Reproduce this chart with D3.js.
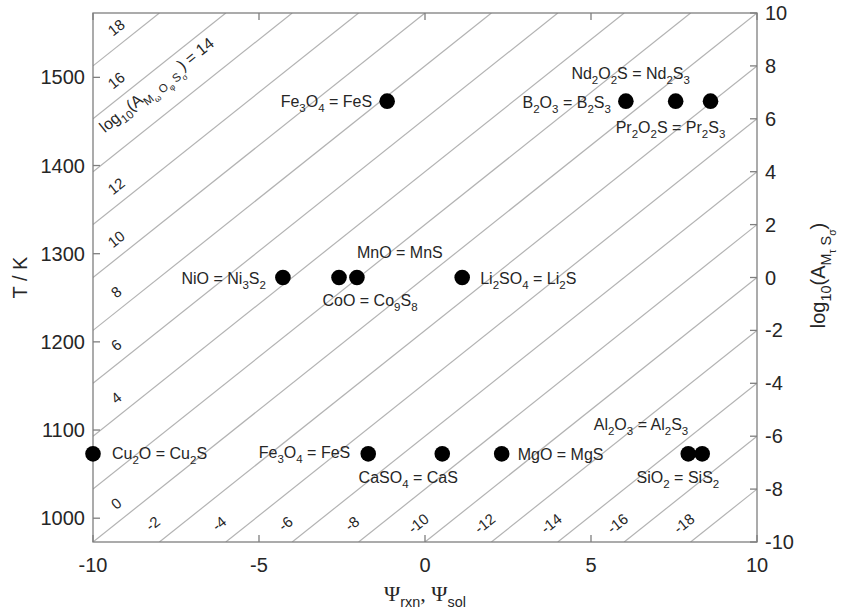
<!DOCTYPE html>
<html>
<head>
<meta charset="utf-8">
<script src="https://cdn.jsdelivr.net/npm/d3@7"></script>
<style>
  body { margin: 0; background: #fff; }
  svg text { font-family: "Liberation Sans", Arial, sans-serif; fill: #262626; }
</style>
</head>
<body>
<div id="chart"></div>
<script>
// temperatures of the three rows (K)
var rowT = [1473, 1273, 1073]

// reactions: psi value, row temperature, label
var reactions = [
  {psi: -1.14, T: 1473, name: 'Fe_3O_4 = FeS'},
  {psi: 6.05,  T: 1473, name: 'B_2O_3 = B_2S_3'},
  {psi: 7.55,  T: 1473, name: 'Nd_2O_2S = Nd_2S_3'},
  {psi: 8.60,  T: 1473, name: 'Pr_2O_2S = Pr_2S_3'},
  {psi: -4.28, T: 1273, name: 'NiO = Ni_3S_2'},
  {psi: -2.59, T: 1273, name: 'CoO = Co_9S_8'},
  {psi: -2.05, T: 1273, name: 'MnO = MnS'},
  {psi: 1.12,  T: 1273, name: 'Li_2SO_4 = Li_2S'},
  {psi: -10.0, T: 1073, name: 'Cu_2O = Cu_2S'},
  {psi: -1.71, T: 1073, name: 'Fe_3O_4 = FeS'},
  {psi: 0.52,  T: 1073, name: 'CaSO_4 = CaS'},
  {psi: 2.31,  T: 1073, name: 'MgO = MgS'},
  {psi: 7.93,  T: 1073, name: 'Al_2O_3 = Al_2S_3'},
  {psi: 8.35,  T: 1073, name: 'SiO_2 = SiS_2'}
]

// label placement relative to each dot (pixels), same order as reactions
var labelPlace = [
  [-15, 6, 'end'], [-15, 7, 'end'], [-45, -22, 'middle'], [-40, 32, 'middle'],
  [-17, 6, 'end'], [31, 28, 'middle'], [0, -20, 'start'], [18, 6, 'start'],
  [19, 5, 'start'], [-18, 4, 'end'], [-34, 29, 'middle'], [16, 6, 'start'],
  [0, -24, 'end'], [17, 29, 'end']
]

// iso-lines of log10(A_MOS): value = log10(A_MS) - psi
var isoLevels = [-18, -16, -14, -12, -10, -8, -6, -4, -2, 0, 2, 4, 6, 8, 10, 12, 14, 16, 18]
var isoLabels = [18, 16, 14, 12, 10, 8, 6, 4, 0, -2, -4, -6, -8, -10, -12, -14, -16, -18]

var xTicks = [-10, -5, 0, 5, 10]
var tTicks = [1000, 1100, 1200, 1300, 1400, 1500]
var aTicks = [-10, -8, -6, -4, -2, 0, 2, 4, 6, 8, 10]

var W = 863, H = 614
var m = {left: 93, right: 106, top: 13, bottom: 72}

var svg = d3.select('#chart').append('svg').attr('width', W).attr('height', H)

var x = d3.scaleLinear().domain([-10, 10]).range([m.left, W - m.right])
var yT = d3.scaleLinear().domain([973, 1573]).range([H - m.bottom, m.top])
var yA = d3.scaleLinear().domain([-10, 10]).range([H - m.bottom, m.top])

var axisCol = '#7f7f7f'
var tickLen = 7

// parse "_x" / "_{...}" subscripts into runs
function parse(s, lvl, out){
  var i = 0
  while (i < s.length){
    if (s[i] == '_'){
      i++
      if (s[i] == '{'){
        var depth = 1, j = i + 1
        while (depth){ if (s[j] == '{') depth++; else if (s[j] == '}') depth--; j++ }
        parse(s.slice(i + 1, j - 1), lvl + 1, out)
        i = j
      } else { out.push({t: s[i], lvl: lvl + 1}); i++ }
    } else {
      var j = i
      while (j < s.length && s[j] != '_') j++
      out.push({t: s.slice(i, j), lvl: lvl})
      i = j
    }
  }
  return out
}

function rich(sel, str, size){
  var runs = parse(str, 0, [])
  var off = function(l){ var o = 0, f = size; for (var k = 0; k < l; k++){ o += f * 0.32; f *= 0.72 } return o }
  var prev = 0
  runs.forEach(function(r){
    var ts = sel.append('tspan').text(r.t)
      .attr('font-size', size * Math.pow(0.72, r.lvl))
      .attr('dy', off(r.lvl) - off(prev))
    if (r.t.indexOf('Ψ') >= 0) ts.style('font-family', '"Liberation Serif", serif').attr('font-size', size * 1.1)
    prev = r.lvl
  })
  return sel
}

// clip for iso lines
svg.append('clipPath').attr('id', 'plotclip').append('rect')
  .attr('x', m.left).attr('y', m.top)
  .attr('width', W - m.left - m.right).attr('height', H - m.top - m.bottom)

var line = d3.line().x(function(d){ return x(d[0]) }).y(function(d){ return yA(d[1]) })

svg.append('g').attr('clip-path', 'url(#plotclip)')
  .selectAll('path').data(isoLevels).join('path')
  .attr('d', function(v){
    var p0 = Math.max(-10, -10 - v), p1 = Math.min(10, 10 - v)
    return line([[p0, p0 + v], [p1, p1 + v]])
  })
  .attr('fill', 'none').attr('stroke', '#b3b3b3').attr('stroke-width', 1.2)

// iso labels
var ang = Math.atan2(yA(1) - yA(0), x(1) - x(0)) * 180 / Math.PI
isoLabels.forEach(function(v){
  var p, a
  if (v >= 0){ p = -9.3; a = p + v + 0.75 }
  else { a = -9.3; p = a - v - 0.9 }
  var t = svg.append('text')
    .attr('transform', 'translate(' + x(p) + ',' + yA(a) + ') rotate(' + ang + ')')
    .attr('text-anchor', 'middle').attr('dy', '0.35em')
  if (v == 14){
    var pp = -7.98
    t.attr('transform', 'translate(' + x(pp) + ',' + yA(pp + 15.1) + ') rotate(' + ang + ')')
    rich(t, 'log_{10}(A_{M_ω O_φ S_σ}) = 14', 16)
  } else {
    t.attr('font-size', 15).text(v)
  }
})

// box
svg.append('rect')
  .attr('x', m.left).attr('y', m.top)
  .attr('width', W - m.left - m.right).attr('height', H - m.top - m.bottom)
  .attr('fill', 'none').attr('stroke', axisCol).attr('stroke-width', 1.3)

// ticks
var tk = svg.append('g').attr('stroke', axisCol).attr('stroke-width', 1.3)
xTicks.forEach(function(v){
  tk.append('line').attr('x1', x(v)).attr('x2', x(v)).attr('y1', H - m.bottom).attr('y2', H - m.bottom - tickLen)
  tk.append('line').attr('x1', x(v)).attr('x2', x(v)).attr('y1', m.top).attr('y2', m.top + tickLen)
})
tTicks.forEach(function(v){
  tk.append('line').attr('x1', m.left).attr('x2', m.left + tickLen).attr('y1', yT(v)).attr('y2', yT(v))
})
aTicks.forEach(function(v){
  tk.append('line').attr('x1', W - m.right).attr('x2', W - m.right - tickLen).attr('y1', yA(v)).attr('y2', yA(v))
})

// tick labels
var fs = 20
svg.selectAll('.xt').data(xTicks).join('text').attr('class', 'xt')
  .attr('x', function(d){ return x(d) }).attr('y', H - m.bottom + 30)
  .attr('text-anchor', 'middle').attr('font-size', fs).text(function(d){ return d })
svg.selectAll('.tt').data(tTicks).join('text').attr('class', 'tt')
  .attr('x', m.left - 8).attr('y', function(d){ return yT(d) }).attr('dy', '0.35em')
  .attr('text-anchor', 'end').attr('font-size', fs).text(function(d){ return d })
svg.selectAll('.at').data(aTicks).join('text').attr('class', 'at')
  .attr('x', W - m.right + 8).attr('y', function(d){ return yA(d) }).attr('dy', '0.35em')
  .attr('text-anchor', 'start').attr('font-size', fs).text(function(d){ return d })

// axis titles
svg.append('text').attr('transform', 'translate(27,' + yT(1273) + ') rotate(-90)')
  .attr('text-anchor', 'middle').attr('font-size', fs).text('T / K')
rich(svg.append('text').attr('transform', 'translate(825,' + (yA(0) - 2) + ') rotate(-90)')
  .attr('text-anchor', 'middle'), 'log_{10}(A_{M_τ S_σ})', fs)
rich(svg.append('text').attr('x', x(0)).attr('y', 601).attr('text-anchor', 'middle'),
  'Ψ_{rxn}, Ψ_{sol}', fs)

// dots
svg.selectAll('circle').data(reactions).join('circle')
  .attr('cx', function(d){ return x(d.psi) }).attr('cy', function(d){ return yT(d.T) })
  .attr('r', 7.8).attr('fill', '#000')

// reaction labels
reactions.forEach(function(d, i){
  var pl = labelPlace[i]
  var t = svg.append('text')
    .attr('x', x(d.psi) + pl[0]).attr('y', yT(d.T) + pl[1])
    .attr('text-anchor', pl[2])
  rich(t, d.name, 16)
})
</script>
</body>
</html>
